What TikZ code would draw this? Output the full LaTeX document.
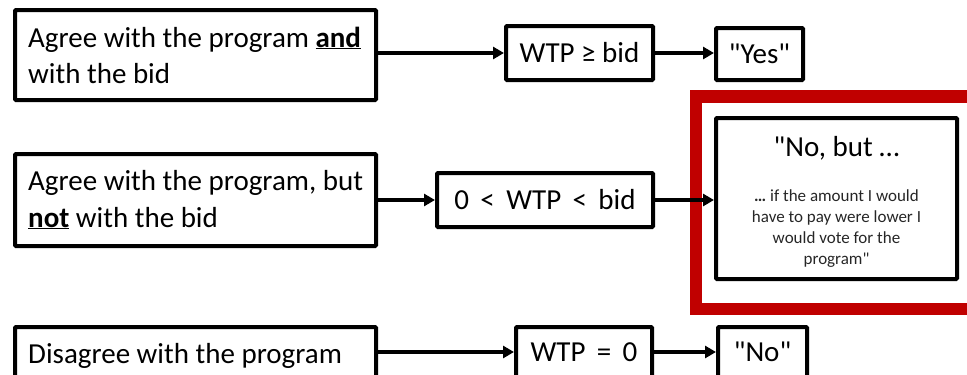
\documentclass[tikz,border=0pt]{standalone}
\usepackage{fontspec}
\setmainfont{Carlito}[Ligatures=TeXOff]
\usetikzlibrary{arrows.meta}
\definecolor{redframe}{HTML}{C00000}
\newcommand{\dq}{\symbol{34}}
\tikzset{
  box/.style={draw=black, line width=4pt, inner sep=0pt, rounded corners=1pt},
  bigtext/.style={font=\fontsize{29}{36}\selectfont},
  smalltext/.style={font=\fontsize{17}{21}\selectfont, text=black!85},
  conn/.style={line width=3.5pt, -{Triangle[length=11pt,width=12pt]}},
}
\begin{document}
\begin{tikzpicture}[x=1pt,y=-1pt]
\useasboundingbox (0,0) rectangle (967,375);
\clip (0,0) rectangle (967,375);
% red frame
\draw[redframe, line width=12.5pt] (696,96.5) rectangle (990,309);
% row 1
\node[box, minimum width=361pt, minimum height=90pt] (b1) at (195.5,55) {};
\node[bigtext, anchor=base west, inner sep=0pt] (t1a) at (28,47) {Agree with the program \underline{\textbf{and}}};
\node[bigtext, anchor=base west, inner sep=0pt] (t1b) at (28,83) {with the bid};
\node[box, bigtext, minimum width=147pt, minimum height=54pt] (w1) at (579.5,53) {WTP ≥ bid};
\node[box, bigtext, minimum width=87pt, minimum height=52pt] (y1) at (759.5,54) {\dq Yes\dq};
% row 2
\node[box, minimum width=361pt, minimum height=92pt] (b2) at (195.5,200) {};
\node[bigtext, anchor=base west, inner sep=0pt] (t2a) at (28,190) {Agree with the program, but};
\node[bigtext, anchor=base west, inner sep=0pt] (t2b) at (28,227) {\underline{\textbf{not}} with the bid};
\node[box, bigtext, minimum width=216pt, minimum height=54pt] (w2) at (545,200) {0 \,<\, WTP \,<\, bid};
\node[box, minimum width=241pt, minimum height=161pt] (nb) at (836.5,198.5) {};
\node[bigtext, anchor=base, inner sep=0pt] (nbt) at (836.5,156) {\dq No, but …};
\node[smalltext, anchor=base, inner sep=0pt, align=center] (nbs) at (836.5,264) {\textbf{…} if the amount I would\\have to pay were lower I\\would vote for the\\program\dq};
% row 3
\node[box, minimum width=361pt, minimum height=50pt] (b3) at (195.5,352) {};
\node[bigtext, anchor=base west, inner sep=0pt] (t3) at (28,363) {Disagree with the program};
\node[box, bigtext, minimum width=136pt, minimum height=50pt] (w3) at (584,352) {WTP \,=\, 0};
\node[box, bigtext, minimum width=89pt, minimum height=50pt] (n3) at (762.5,352) {\dq No\dq};
% connectors
\draw[conn] (b1.east |- w1.west) -- (w1.west);
\draw[conn] (w1.east) -- (w1.east -| y1.west);
\draw[conn] (b2.east) -- (w2.west);
\draw[conn] (w2.east) -- (w2.east -| nb.west);
\draw[conn] (b3.east) -- (w3.west);
\draw[conn] (w3.east) -- (n3.west);
\end{tikzpicture}
\end{document}
